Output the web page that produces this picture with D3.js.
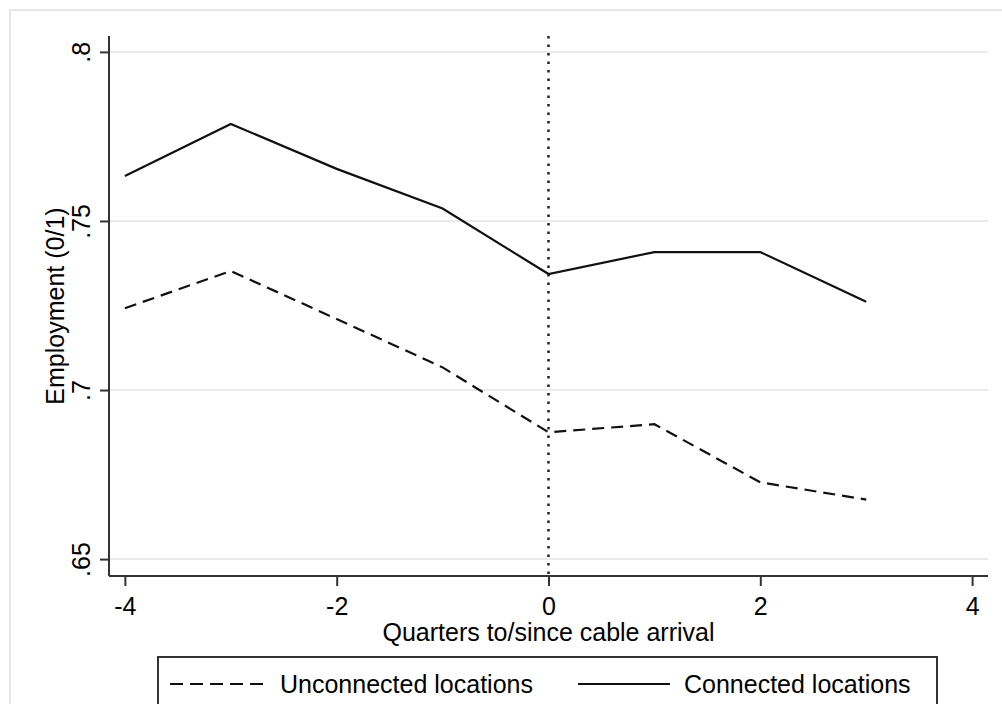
<!DOCTYPE html>
<html>
<head>
<meta charset="utf-8">
<script src="https://cdn.jsdelivr.net/npm/d3@7"></script>
<style>
  body { margin: 0; background: #fff; }
  svg { display: block; }
  text { font-family: "Liberation Sans", Arial, sans-serif; fill: #000; }
</style>
</head>
<body>
<svg id="chart" width="1002" height="704"></svg>
<script>
// Data
const quarters = [-4, -3, -2, -1, 0, 1, 2, 3];
const connected = [0.7633, 0.7787, 0.7654, 0.7537, 0.7343, 0.7408, 0.7408, 0.7261];
const unconnected = [0.7242, 0.7352, 0.7210, 0.7067, 0.6875, 0.6899, 0.6727, 0.6676];
const xTicks = [-4, -2, 0, 2, 4];
const yTicks = [0.65, 0.70, 0.75, 0.80];
const yTickLabels = [".65", ".7", ".75", ".8"];
const seriesNames = ["Unconnected locations", "Connected locations"];
const xTitle = "Quarters to/since cable arrival";
const yTitle = "Employment (0/1)";
const eventQuarter = 0;

(function () {
const FS = 25;
const svg = d3.select("#chart");

// outer graph region border
svg.append("rect").attr("x", 10).attr("y", 10).attr("width", 1000).attr("height", 700)
  .attr("fill", "#fff").attr("stroke", "#e6e6e6").attr("stroke-width", 2);

const pLeft = 109, pRight = 988, pTop = 36, pBottom = 576;
const x = d3.scaleLinear().domain([-4.15, 4.15]).range([pLeft, pRight]);
const y = d3.scaleLinear().domain([0.645, 0.8047]).range([pBottom, pTop]);

// gridlines
svg.append("g").selectAll("line").data(yTicks).join("line")
  .attr("x1", pLeft).attr("x2", pRight)
  .attr("y1", d => y(d)).attr("y2", d => y(d))
  .attr("stroke", "#eaeaea").attr("stroke-width", 2);

// vertical dotted line
svg.append("line")
  .attr("x1", x(eventQuarter)).attr("x2", x(eventQuarter))
  .attr("y1", pTop).attr("y2", pBottom)
  .attr("stroke", "#222").attr("stroke-width", 2.5)
  .attr("stroke-dasharray", "2.5,6");

// lines
const line = d3.line().x((d, i) => x(quarters[i])).y(d => y(d));
svg.append("path").datum(unconnected).attr("d", line)
  .attr("fill", "none").attr("stroke", "#111").attr("stroke-width", 2.2)
  .attr("stroke-dasharray", "12,7");
svg.append("path").datum(connected).attr("d", line)
  .attr("fill", "none").attr("stroke", "#111").attr("stroke-width", 2.2);

// x axis
const xAxis = d3.axisBottom(x).tickValues(xTicks).tickSize(10).tickPadding(11)
  .tickFormat(d => d < 0 ? "-" + Math.abs(d) : String(d));
const gx = svg.append("g").attr("transform", `translate(0,${pBottom})`).call(xAxis);
gx.attr("font-size", FS).attr("font-family", "Liberation Sans, Arial, sans-serif");
gx.select(".domain").attr("d", `M${pLeft},0H${pRight}`).attr("stroke", "#333").attr("stroke-width", 2);
gx.selectAll(".tick line").attr("stroke", "#333").attr("stroke-width", 2);
gx.selectAll(".tick text").attr("font-size", FS).attr("fill", "#000");

// y axis
const yAxis = d3.axisLeft(y).tickValues(yTicks).tickSize(9).tickPadding(0)
  .tickFormat((d, i) => yTickLabels[i]);
const gy = svg.append("g").attr("transform", `translate(${pLeft},0)`).call(yAxis);
gy.attr("font-size", FS).attr("font-family", "Liberation Sans, Arial, sans-serif");
gy.select(".domain").attr("d", `M0,${pTop}V${pBottom}`).attr("stroke", "#333").attr("stroke-width", 2);
gy.selectAll(".tick line").attr("stroke", "#333").attr("stroke-width", 2);
gy.selectAll(".tick text")
  .attr("font-size", FS).attr("fill", "#000")
  .attr("text-anchor", "middle").attr("x", null).attr("dy", null)
  .attr("transform", "translate(-19,0) rotate(-90)");

// axis titles
svg.append("text").attr("x", x(0)).attr("y", 641).attr("text-anchor", "middle")
  .attr("font-size", FS).text(xTitle);
svg.append("text").attr("transform", `translate(64,${(pTop + pBottom) / 2}) rotate(-90)`)
  .attr("text-anchor", "middle").attr("font-size", FS).text(yTitle);

// legend
const lg = svg.append("g");
lg.append("rect").attr("x", 158).attr("y", 657).attr("width", 779).attr("height", 60)
  .attr("fill", "#fff").attr("stroke", "#333").attr("stroke-width", 2);
lg.append("line").attr("x1", 170).attr("x2", 266).attr("y1", 684).attr("y2", 684)
  .attr("stroke", "#111").attr("stroke-width", 2.2).attr("stroke-dasharray", "13,7");
lg.append("text").attr("x", 280).attr("y", 693).attr("font-size", FS).text(seriesNames[0]);
lg.append("line").attr("x1", 578).attr("x2", 670).attr("y1", 684).attr("y2", 684)
  .attr("stroke", "#111").attr("stroke-width", 2.2);
lg.append("text").attr("x", 684).attr("y", 693).attr("font-size", FS).text(seriesNames[1]);
})();
</script>
</body>
</html>
